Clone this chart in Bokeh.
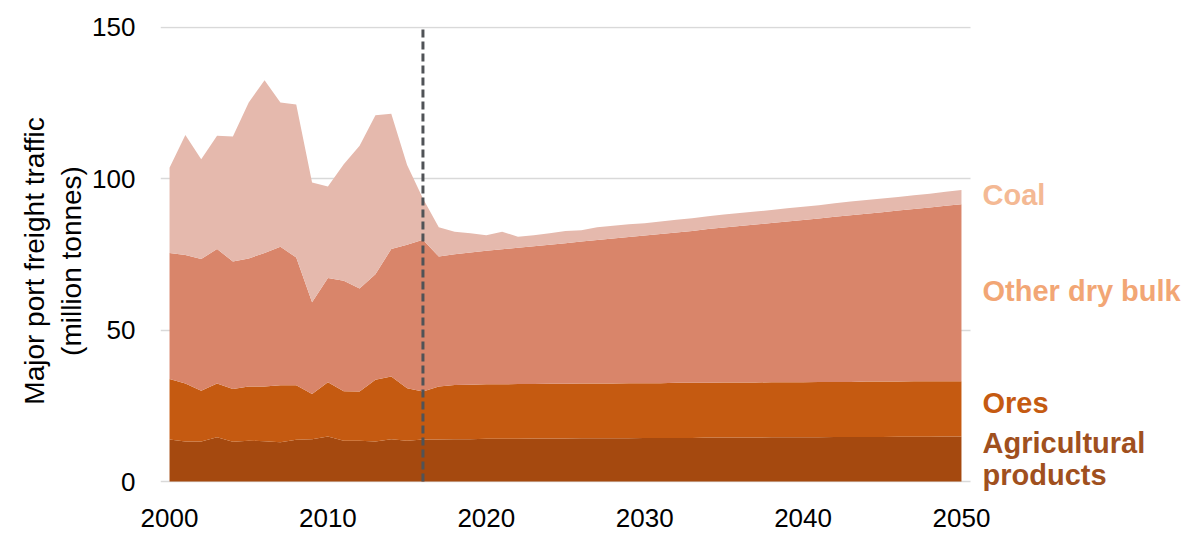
from bokeh.plotting import figure
from bokeh.models import ColumnDataSource, Range1d, FixedTicker, LinearAxis
from bokeh.core.properties import value
from bokeh.embed import file_html
from bokeh.resources import INLINE

years = list(range(2000, 2051))
agricultural_products = [13.9, 13.2, 13.2, 14.6, 13.1, 13.5, 13.3, 13.0, 13.8, 14.0, 14.9, 13.5, 13.5, 13.2, 14.0, 13.5, 13.9,
                         13.9, 14.0, 14.0, 14.1, 14.1, 14.1, 14.2, 14.2, 14.2, 14.3, 14.3, 14.3, 14.3, 14.4, 14.4, 14.4,
                         14.4, 14.5, 14.5, 14.5, 14.5, 14.6, 14.6, 14.6, 14.6, 14.7, 14.7, 14.7, 14.7, 14.8, 14.8, 14.8,
                         14.9, 14.9]
ores = [20.0, 19.2, 16.8, 17.8, 17.5, 17.9, 18.1, 18.8, 18.0, 14.9, 17.9, 16.3, 16.2, 20.4, 20.7, 17.3, 15.8, 17.5, 17.9,
        18.0, 18.0, 18.0, 18.1, 18.0, 18.1, 18.1, 18.1, 18.1, 18.1, 18.2, 18.1, 18.1, 18.2, 18.2, 18.1, 18.2, 18.2,
        18.2, 18.2, 18.2, 18.2, 18.3, 18.2, 18.2, 18.3, 18.3, 18.2, 18.3, 18.3, 18.2, 18.2]
other_dry_bulk = [41.6, 42.4, 43.5, 44.4, 42.1, 42.3, 44.1, 45.8, 42.2, 30.3, 34.4, 36.5, 34.1, 34.9, 42.1, 47.4, 50.2,
                  42.9, 43.2, 43.7, 44.1, 44.6, 45.0, 45.5, 45.9, 46.4, 46.9, 47.4, 47.9, 48.3, 48.8, 49.3, 49.7, 50.2,
                  50.8, 51.2, 51.7, 52.2, 52.6, 53.1, 53.6, 54.0, 54.6, 55.1, 55.5, 56.0, 56.5, 56.9, 57.4, 58.0, 58.5]
coal = [28.2, 39.7, 33.0, 37.4, 41.3, 51.5, 57.1, 47.6, 50.6, 39.6, 30.3, 38.5, 47.1, 52.5, 44.7, 26.4, 13.6, 9.7, 7.4,
        6.3, 5.2, 5.8, 3.7, 3.7, 3.8, 4.1, 3.7, 4.2, 4.2, 4.2, 4.0, 4.1, 4.2, 4.2, 4.2, 4.3, 4.3, 4.3, 4.3, 4.4, 4.4,
        4.4, 4.4, 4.5, 4.5, 4.5, 4.5, 4.6, 4.6, 4.6, 4.7]

series_keys = ["agri", "ores", "other", "coal"]
x_ticks = [2000, 2010, 2020, 2030, 2040, 2050]
y_ticks = [0, 50, 100, 150]
forecast_start = 2016
y_title_outer = "Major port freight traffic"
y_title_inner = "(million tonnes)"
end_labels = ["Coal", "Other dry bulk", "Ores", "Agricultural", "products"]

area_colors = ["#A5490F", "#C55A11", "#D9856A", "#E5B9AD"]
end_label_colors = ["#F4B994", "#F2A675", "#C55A11", "#A0501E", "#A0501E"]
FONT = "Liberation Sans"

# geometry (pixels)
W, H = 1188, 534
LEFT, RIGHT, TOP, BOTTOM = 160, 5, 26, 39
X0, X1 = 1999.43, 2050.57          # extent of the chart area proper (grid lines)
PX_PER_YEAR = 810 / (X1 - X0)
PX_PER_UNIT = 455 / 150.33
Y_END = 150.33
x_end = X0 + (W - LEFT - RIGHT) / PX_PER_YEAR
y_start = Y_END - (H - TOP - BOTTOM) / PX_PER_UNIT
label_x = 2000 + 813 / PX_PER_YEAR
AXIS_BOUNDS = (0, 156)   # centres the axis titles a little above the frame middle

source = ColumnDataSource(dict(year=years, agri=agricultural_products, ores=ores,
                               other=other_dry_bulk, coal=coal))

p = figure(width=W, height=H, output_backend="svg", toolbar_location=None,
           x_range=Range1d(X0, x_end), y_range=Range1d(y_start, Y_END),
           min_border_left=LEFT, min_border_right=RIGHT, min_border_top=TOP, min_border_bottom=BOTTOM)
p.outline_line_color = None

p.varea_stack(stackers=series_keys, x="year", color=area_colors, source=source)

# forecast divider
p.segment(x0=[forecast_start], y0=[y_ticks[0]], x1=[forecast_start], y1=[y_ticks[-1]],
          line_color="#505357", line_width=3, line_dash="8 4")

p.xgrid.visible = False
p.ygrid.ticker = FixedTicker(ticks=y_ticks)
p.ygrid.grid_line_color = "#D9D9D9"
p.ygrid.grid_line_width = 1.5
p.ygrid.cross_bounds = (X0, X1)
p.ygrid.level = "underlay"

for ax in (p.xaxis[0], p.yaxis[0]):
    ax.axis_line_color = None
    ax.major_tick_line_color = None
    ax.minor_tick_line_color = None
    ax.major_label_text_font = FONT
    ax.major_label_text_font_size = "26px"
    ax.major_label_text_color = "#000000"
p.xaxis.ticker = FixedTicker(ticks=x_ticks)
p.yaxis.ticker = FixedTicker(ticks=y_ticks)
p.xaxis.major_label_standoff = 7
p.yaxis.major_label_standoff = 19
p.yaxis.bounds = AXIS_BOUNDS

p.yaxis.axis_label = y_title_inner
p.yaxis.axis_label_text_font = FONT
p.yaxis.axis_label_text_font_size = "28px"
p.yaxis.axis_label_text_font_style = "normal"
p.yaxis.axis_label_text_color = "#000000"
p.yaxis.axis_label_standoff = 2

outer = LinearAxis(ticker=FixedTicker(ticks=[]), axis_label=y_title_outer, bounds=AXIS_BOUNDS,
                   axis_line_color=None, major_tick_line_color=None, minor_tick_line_color=None,
                   axis_label_text_font=FONT, axis_label_text_font_size="28px",
                   axis_label_text_font_style="normal", axis_label_text_color="#000000",
                   axis_label_standoff=4)
p.add_layout(outer, "left")

label_src = ColumnDataSource(dict(x=[label_x] * 5, y=[94.5, 63.1, 26.1, 12.6, 2.0],
                                  text=end_labels, color=end_label_colors))
p.text(x="x", y="y", text="text", text_color="color", source=label_src,
       text_align="left", text_baseline="middle", text_font=value(FONT),
       text_font_size=value("29px"), text_font_style="bold")

open("out.html", "w").write(file_html(p, INLINE))
